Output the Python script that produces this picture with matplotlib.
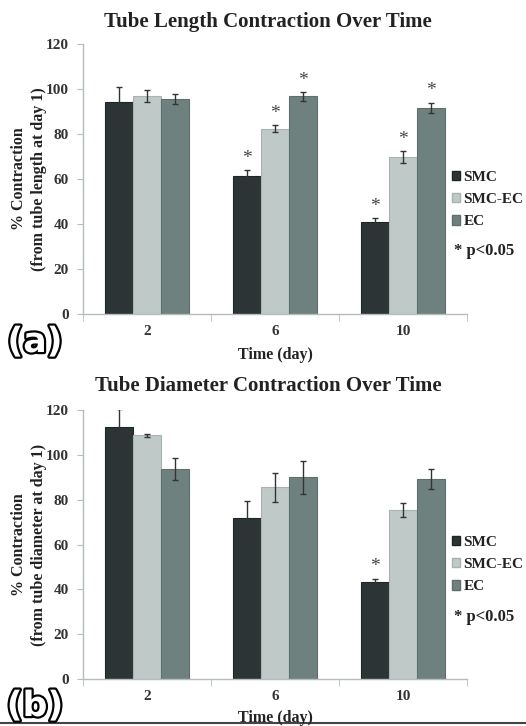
import matplotlib
matplotlib.use("Agg")
import matplotlib.pyplot as plt
import matplotlib.patheffects as pe
from matplotlib.patches import Patch
from matplotlib.lines import Line2D
import numpy as np

days = ["2", "6", "10"]
groups = ["SMC", "SMC-EC", "EC"]

len_smc = [94.2, 61.5, 40.9]
len_smc_err = [6.5, 2.3, 1.7]
len_smcec = [96.9, 82.4, 69.8]
len_smcec_err = [2.6, 1.5, 2.7]
len_ec = [95.7, 96.7, 91.6]
len_ec_err = [2.3, 1.9, 2.3]
len_sig = [[False, True, True], [False, True, True], [False, True, True]]

dia_smc = [112.6, 71.6, 43.1]
dia_smc_err = [7.7, 7.7, 1.6]
dia_smcec = [108.7, 85.5, 75.4]
dia_smcec_err = [0.8, 6.4, 3.0]
dia_ec = [93.7, 89.9, 89.3]
dia_ec_err = [5.0, 7.4, 4.6]
dia_sig = [[False, False, True], [False, False, False], [False, False, False]]

colors = ["#2c3435", "#bfcac8", "#6f817e"]
edges = ["#1e2626", "#a9b4b2", "#5e6f6c"]

W, H = 526, 726
fig = plt.figure(figsize=(W / 100, H / 100), dpi=100)
serif = "Liberation Serif"
txtc = "#222222"

def px(x, y):
    return x / W, 1 - y / H

def panel(rect, title, ylabel, vals, errs, sigs, tag, tag_y, leg_y, p_y, title_y, xl_y):
    ax = fig.add_axes(rect)
    x = np.arange(len(days))
    offs = [-0.22, 0.0, 0.22]
    for i in range(3):
        ax.bar(x + offs[i], vals[i], 0.22, color=colors[i], edgecolor=edges[i], linewidth=0.8,
               yerr=errs[i], capsize=2.2, error_kw=dict(ecolor="#333333", elinewidth=1.0, capthick=1.0),
               zorder=2, label=groups[i])
        for j in range(3):
            if sigs[i][j]:
                ax.text(x[j] + offs[i], vals[i][j] + errs[i][j] + 1.5, "*", ha="center", va="bottom",
                        fontsize=14, family=serif, color="#444444")
    ax.set_xlim(-0.5, 2.5)
    ax.set_ylim(0, 120)
    ax.set_yticks(range(0, 121, 20))
    ax.set_xticks(x)
    ax.set_xticklabels(days)
    ax.set_xticks([-0.5, 0.5, 1.5, 2.5], minor=True)
    for s in ["top", "right"]:
        ax.spines[s].set_visible(False)
    for s in ["left", "bottom"]:
        ax.spines[s].set_color("#b5bcbc")
        ax.spines[s].set_linewidth(1.0)
    ax.tick_params(axis="x", which="major", length=0, pad=8)
    ax.tick_params(axis="x", which="minor", length=5, color="#b5bcbc", direction="out")
    ax.tick_params(axis="y", length=4, color="#b5bcbc", direction="out", pad=6)
    for lab in ax.get_xticklabels() + ax.get_yticklabels():
        lab.set_family(serif)
        lab.set_fontweight("bold")
        lab.set_fontsize(11)
        lab.set_color("#333333")
    fig.text(*px(268, title_y), title, ha="center", va="center", fontsize=15,
             family=serif, fontweight="bold", color=txtc)
    fig.text(*px(275, xl_y), "Time (day)", ha="center", va="center", fontsize=11.5,
             family=serif, fontweight="bold", color=txtc)
    cy = (rect[1] + rect[3] / 2)
    fig.text(29 / W, cy, ylabel, ha="center", va="center", rotation=90, fontsize=11.5,
             family=serif, fontweight="bold", color=txtc, linespacing=1.35, multialignment="center")
    handles = [Patch(facecolor=colors[i], edgecolor=edges[i], label=groups[i]) for i in range(3)]
    leg = fig.legend(handles=handles, loc="upper left", bbox_to_anchor=px(452, leg_y),
                     frameon=False, borderpad=0, borderaxespad=0, handlelength=0.55, handleheight=0.55,
                     handletextpad=0.2, labelspacing=0.6,
                     prop=dict(family=serif, size=11, weight="bold"))
    for t in leg.get_texts():
        t.set_color("#222222")
    fig.text(*px(454, p_y), "* p<0.05", ha="left", va="center", fontsize=12,
             family=serif, fontweight="bold", color=txtc)
    t = fig.text(*px(35, tag_y), tag, ha="center", va="center", fontsize=25,
                 family="DejaVu Sans", fontweight="bold", color="white")
    t.set_path_effects([pe.Stroke(linewidth=3.2, foreground="black"), pe.Normal()])
    return ax

l0 = 83 / W
wdt = (467 - 83) / W
panel([l0, 1 - 314 / H, wdt, (314 - 44) / H],
      "Tube Length Contraction Over Time",
      "% Contraction\n(from tube length at day 1)",
      [len_smc, len_smcec, len_ec], [len_smc_err, len_smcec_err, len_ec_err], len_sig,
      "(a)", 342, 171, 251, 22, 355)
panel([l0, 1 - 679 / H, wdt, (679 - 410) / H],
      "Tube Diameter Contraction Over Time",
      "% Contraction\n(from tube diameter at day 1)",
      [dia_smc, dia_smcec, dia_ec], [dia_smc_err, dia_smcec_err, dia_ec_err], dia_sig,
      "(b)", 706, 536, 617, 386, 718)

fig.add_artist(Line2D([0, 1], [1 - 723 / H, 1 - 723 / H], color="#444444", linewidth=1.5))

fig.savefig("out.png", dpi=100, facecolor="white")
